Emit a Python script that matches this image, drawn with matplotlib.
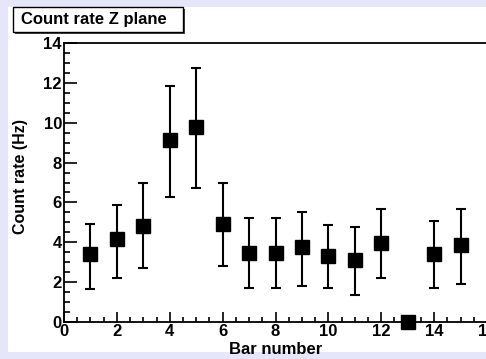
import numpy as np
import matplotlib
matplotlib.use('Agg')
import matplotlib.pyplot as plt
from matplotlib.patches import Rectangle
from matplotlib.ticker import MultipleLocator

# count rate per bar (Hz) with lower / upper errors
bars = [1, 2, 3, 4, 5, 6, 7, 8, 9, 10, 11, 12, 13, 14, 15]
rate = [3.4, 4.15, 4.82, 9.13, 9.8, 4.92, 3.48, 3.48, 3.77, 3.3, 3.13, 3.97, 0.0, 3.4, 3.88]
err_lo = [1.75, 1.95, 2.1, 2.86, 3.07, 2.12, 1.75, 1.75, 1.94, 1.57, 1.76, 1.75, 0.0, 1.67, 1.95]
err_hi = [1.53, 1.73, 2.15, 2.69, 2.97, 2.05, 1.74, 1.74, 1.73, 1.57, 1.62, 1.71, 0.0, 1.65, 1.8]

plt.rcParams['font.family'] = ['Liberation Sans', 'DejaVu Sans']
plt.rcParams['font.weight'] = 'bold'

fig = plt.figure(figsize=(4.86, 3.59), dpi=100)
fig.patch.set_facecolor('#e6e6fa')
W, H = 486.0, 359.0
fig.patches.append(Rectangle((8 / W, 7 / H), 1, 345 / H, transform=fig.transFigure,
                             facecolor='white', edgecolor='none', zorder=-10))

ax = fig.add_axes([64 / W, 1 - 322 / H, 423 / W, 279 / H])
ax.errorbar(bars, rate, yerr=[err_lo, err_hi], fmt='s', color='black',
            markersize=10.5, elinewidth=1.5, capsize=3.5, capthick=1.5,
            clip_on=False, zorder=3)

ax.set_xlim(0, 16)
ax.set_ylim(0, 14)
ax.xaxis.set_major_locator(MultipleLocator(2))
ax.xaxis.set_minor_locator(MultipleLocator(0.5))
ax.yaxis.set_major_locator(MultipleLocator(2))
ax.yaxis.set_minor_locator(MultipleLocator(0.5))
ax.tick_params(axis='both', which='both', direction='in', width=1.2, labelsize=12)
ax.tick_params(axis='y', which='major', length=9, pad=1.5)
ax.tick_params(axis='y', which='minor', length=4.5)
ax.tick_params(axis='x', which='major', length=7, pad=1.5)
ax.tick_params(axis='x', which='minor', length=3.5)
for t in ax.get_xticklabels() + ax.get_yticklabels():
    t.set_fontweight('bold')
for s in ax.spines.values():
    s.set_linewidth(1.3)

fig.text(276 / W, 1 - 349 / H, 'Bar number', ha='center', va='center',
         fontsize=12, fontweight='bold')
fig.text(20 / W, 1 - 177 / H, 'Count rate (Hz)', ha='center', va='center',
         rotation=90, fontsize=11.5, fontweight='bold')

# title box with shadow
fig.patches.append(Rectangle((15 / W, 1 - 34 / H), 170 / W, 25 / H, transform=fig.transFigure,
                             facecolor='#444444', edgecolor='none', zorder=5))
fig.patches.append(Rectangle((13 / W, 1 - 32 / H), 170 / W, 25 / H, transform=fig.transFigure,
                             facecolor='white', edgecolor='black', linewidth=1.0, zorder=6))
fig.text(21 / W, 1 - 19.5 / H, 'Count rate Z plane', ha='left', va='center',
         fontsize=12, fontweight='bold', zorder=7)

fig.savefig('out.png', dpi=100, facecolor=fig.get_facecolor())
